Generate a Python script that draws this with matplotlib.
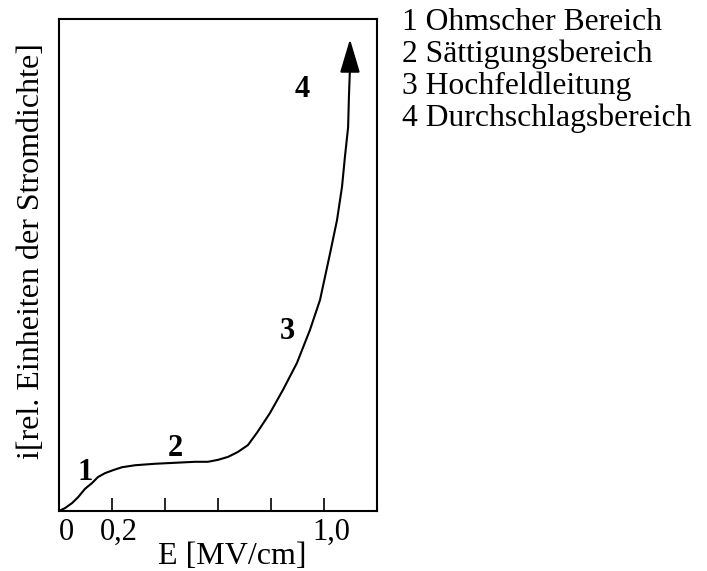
import matplotlib
matplotlib.use("Agg")
import matplotlib.pyplot as plt
import matplotlib.transforms as mtransforms

# Data (E in MV/cm, i in relative units)
E_vals = [0.0, 0.023, 0.049, 0.072, 0.098, 0.125, 0.147, 0.174, 0.204, 0.238,
          0.287, 0.362, 0.438, 0.513, 0.562, 0.600, 0.638, 0.675, 0.713, 0.747,
          0.796, 0.845, 0.898, 0.947, 0.985, 1.023, 1.049, 1.068, 1.079, 1.091,
          1.094, 1.098]
i_vals = [0.0, 0.006, 0.016, 0.028, 0.045, 0.057, 0.069, 0.077, 0.083, 0.089,
          0.093, 0.096, 0.098, 0.100, 0.100, 0.104, 0.110, 0.120, 0.134, 0.159,
          0.199, 0.246, 0.301, 0.368, 0.429, 0.524, 0.591, 0.659, 0.720, 0.780,
          0.841, 0.900]
arrow_tip = (1.098, 0.959)

tick_positions = [0.0, 0.2, 0.4, 0.6, 0.8, 1.0]
tick_labels = ["0", "0,2", "", "", "", "1,0"]

region_labels = ["1", "2", "3", "4"]
region_E = [0.098, 0.440, 0.860, 0.917]
region_i = [0.079, 0.128, 0.364, 0.856]

legend_lines = ["1 Ohmscher Bereich", "2 Sättigungsbereich",
                "3 Hochfeldleitung", "4 Durchschlagsbereich"]

plt.rcParams['font.family'] = ['Liberation Serif', 'DejaVu Serif']
plt.rcParams['font.size'] = 22

fig = plt.figure(figsize=(7.07, 5.71), dpi=100)
ax = fig.add_axes([59/707, 60/571, 318/707, 492/571])

ax.plot(E_vals, i_vals, color='black', lw=1.5, solid_joinstyle='round')
ax.annotate('', xy=arrow_tip, xytext=(E_vals[-1], i_vals[-1]),
            arrowprops=dict(arrowstyle='-|>,head_length=1.04,head_width=0.31',
                            mutation_scale=20, lw=1.5, color='black',
                            shrinkA=0, shrinkB=0))

for lab, x, y in zip(region_labels, region_E, region_i):
    ax.text(x, y, lab, fontsize=22, fontweight='bold', ha='center', va='center')

ax.set_xlim(0, 1.2)
ax.set_ylim(0, 1.0)
ax.set_xticks(tick_positions)
ax.set_xticklabels(tick_labels)
ax.tick_params(axis='x', direction='in', length=9.5, width=1.2, pad=5, labelsize=22)
ax.set_yticks([])
for lbl in ax.get_xticklabels():
    lbl.set_transform(lbl.get_transform() + mtransforms.ScaledTranslation(7/100, 0, fig.dpi_scale_trans))
for s in ax.spines.values():
    s.set_linewidth(1.5)

ax.set_xlabel("E [MV/cm]", fontsize=23)
ax.xaxis.set_label_coords(0.544, -0.062)
ax.set_ylabel("i[rel. Einheiten der Stromdichte]", fontsize=23)
ax.yaxis.set_label_coords(-0.04, 0.528)

for k, line in enumerate(legend_lines):
    fig.text(402/707, 1 - (30 + 32*k)/571, line, fontsize=22.8, ha='left', va='baseline')

fig.savefig("out.png", dpi=100)
